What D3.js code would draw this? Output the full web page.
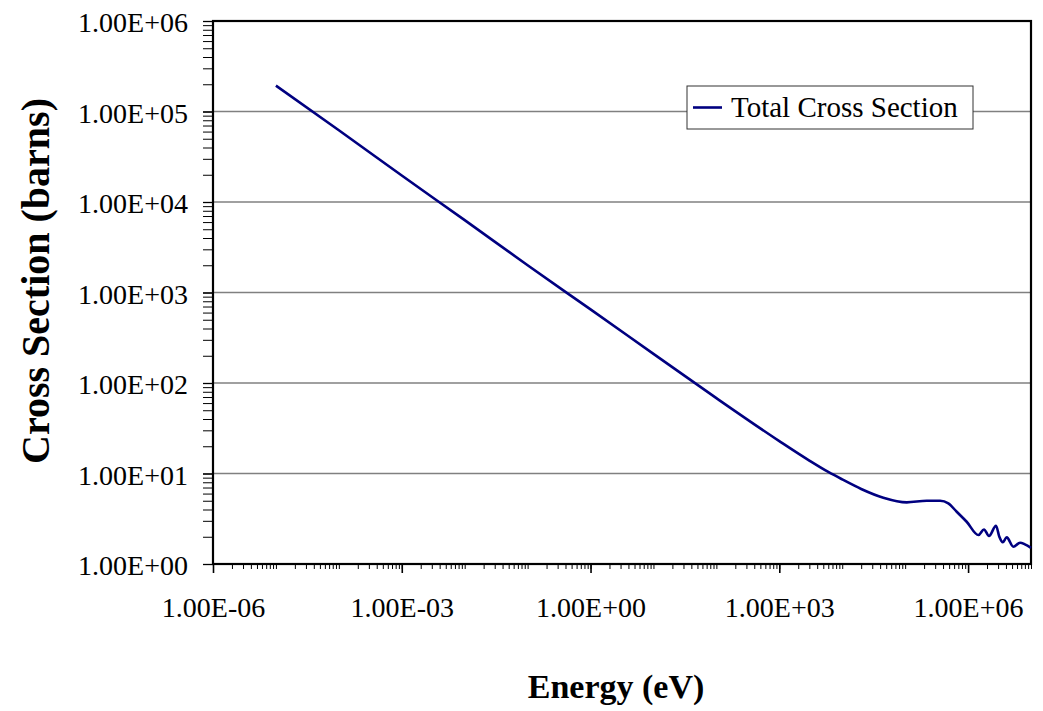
<!DOCTYPE html>
<html>
<head>
<meta charset="utf-8">
<script src="https://cdn.jsdelivr.net/npm/d3@7"></script>
<style>
  html, body { margin: 0; padding: 0; background: #fff; }
  svg { display: block; }
  svg text { font-family: "Liberation Serif", "DejaVu Serif", serif !important; fill: #000; }
</style>
</head>
<body>
<svg id="chart" width="1043" height="711"></svg>
<script>
// ---- data ----
const energyEV = [1e-5, 1e-4, 1e-3, 1e-2, 1e-1, 1, 10, 100, 1e3, 3e3, 6e3, 1e4, 2e4, 4.5e4,
  1.06e5, 2.2e5, 3.6e5, 4.85e5, 6.6e5, 9.5e5, 1.46e6, 1.79e6, 2.15e6, 2.78e6, 3.14e6, 3.56e6,
  4.11e6, 5.24e6, 6.7e6, 8.0e6, 1e7];
const totalXS = [1.93e5, 6.2e4, 1.96e4, 6.3e3, 2.0e3, 6.5e2, 2.1e2, 68, 22.8, 13.9, 10.4, 8.6, 6.75, 5.4,
  4.8, 5.0, 5.0, 4.68, 3.78, 2.93, 2.09, 2.41, 2.04, 2.65, 2.0, 1.74,
  1.97, 1.55, 1.72, 1.65, 1.51];
const seriesName = "Total Cross Section";
const xMajorTicks = [1e-6, 1e-3, 1e0, 1e3, 1e6];
const xTickLabels = ["1.00E-06", "1.00E-03", "1.00E+00", "1.00E+03", "1.00E+06"];
const yMajorTicks = [1e0, 1e1, 1e2, 1e3, 1e4, 1e5, 1e6];
const yTickLabels = ["1.00E+00", "1.00E+01", "1.00E+02", "1.00E+03", "1.00E+04", "1.00E+05", "1.00E+06"];
const xTitle = "Energy (eV)";
const yTitle = "Cross Section (barns)";

// ---- layout ----
const L = 213, R = 1031, T = 21, B = 564;
const FONT = "'Liberation Serif','DejaVu Serif',serif";
const svg = d3.select("#chart");
const x = d3.scaleLog().domain([1e-6, 1e7]).range([L, R]);
const y = d3.scaleLog().domain([1, 1e6]).range([B, T]);

// minor tick values (1..9 within each decade)
function minorTicks(lo, hi) {
  const out = [];
  for (let e = lo; e < hi; e++) for (let k = 1; k <= 9; k++) out.push(k * Math.pow(10, e));
  out.push(Math.pow(10, hi));
  return out;
}

// gridlines
svg.append("g").selectAll("line").data(yMajorTicks.slice(1, -1)).join("line")
  .attr("x1", L).attr("x2", R)
  .attr("y1", d => y(d)).attr("y2", d => y(d))
  .attr("stroke", "#808080").attr("stroke-width", 1.3);

// x minor ticks
const gxMin = svg.append("g").attr("transform", `translate(0,${B})`)
  .call(d3.axisBottom(x).tickValues(minorTicks(-6, 7)).tickSize(5).tickFormat(""));
gxMin.select(".domain").remove();
gxMin.selectAll(".tick line").attr("stroke", "#000").attr("stroke-width", 1);

// x major ticks + labels
const gxMaj = svg.append("g").attr("transform", `translate(0,${B})`)
  .call(d3.axisBottom(x).tickValues(xMajorTicks).tickSize(9).tickPadding(24)
    .tickFormat((d, i) => xTickLabels[i]));
gxMaj.attr("font-family", FONT).attr("font-size", 28);
gxMaj.select(".domain").remove();
gxMaj.selectAll(".tick line").attr("stroke", "#000").attr("stroke-width", 1.6);
gxMaj.selectAll(".tick text").attr("fill", "#000");

// y minor ticks
const gyMin = svg.append("g").attr("transform", `translate(${L},0)`)
  .call(d3.axisLeft(y).tickValues(minorTicks(0, 6)).tickSize(10).tickFormat(""));
gyMin.select(".domain").remove();
gyMin.selectAll(".tick line").attr("stroke", "#000").attr("stroke-width", 1);

// y major labels
const gyMaj = svg.append("g").attr("transform", `translate(${L},0)`)
  .call(d3.axisLeft(y).tickValues(yMajorTicks).tickSize(10).tickPadding(15)
    .tickFormat((d, i) => yTickLabels[i]));
gyMaj.attr("font-family", FONT).attr("font-size", 28);
gyMaj.select(".domain").remove();
gyMaj.selectAll(".tick line").attr("stroke", "#000").attr("stroke-width", 1.3);
gyMaj.selectAll(".tick text").attr("dy", "0.38em").attr("fill", "#000");

// plot border
svg.append("rect").attr("x", L).attr("y", T).attr("width", R - L).attr("height", B - T)
  .attr("fill", "none").attr("stroke", "#000").attr("stroke-width", 2.2);

// series line
const pts = energyEV.map((e, i) => [e, totalXS[i]]);
svg.append("path").datum(pts)
  .attr("d", d3.line().x(d => x(d[0])).y(d => y(d[1])).curve(d3.curveMonotoneX))
  .attr("fill", "none").attr("stroke", "#000080").attr("stroke-width", 2.6)
  .attr("stroke-linejoin", "round");

// legend
const lg = svg.append("g");
lg.append("rect").attr("x", 687).attr("y", 86).attr("width", 286).attr("height", 43)
  .attr("fill", "#fff").attr("stroke", "#333").attr("stroke-width", 1);
lg.append("line").attr("x1", 693).attr("x2", 722).attr("y1", 107.5).attr("y2", 107.5)
  .attr("stroke", "#000080").attr("stroke-width", 2.6);
lg.append("text").attr("x", 731).attr("y", 117).attr("font-size", 29)
  .attr("font-family", FONT).text(seriesName);

// axis titles
svg.append("text").attr("x", 616).attr("y", 698).attr("text-anchor", "middle")
  .attr("font-family", FONT).attr("font-size", 34).attr("font-weight", "bold").text(xTitle);
svg.append("text").attr("transform", `translate(49,281) rotate(-90)`)
  .attr("font-family", FONT).attr("text-anchor", "middle").attr("font-size", 40)
  .attr("font-weight", "bold").text(yTitle);
</script>
</body>
</html>
